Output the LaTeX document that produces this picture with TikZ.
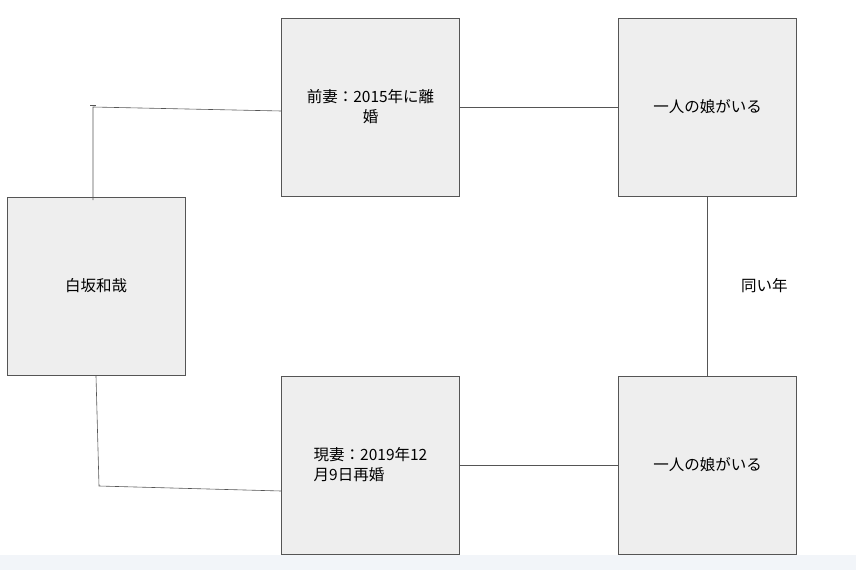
\documentclass[tikz,border=0pt]{standalone}
\usepackage{fontspec}
\setmainfont{Noto Sans CJK JP}
\usetikzlibrary{positioning}
\definecolor{boxfill}{HTML}{EEEEEE}
\definecolor{boxline}{HTML}{555555}
\definecolor{stripfill}{HTML}{F2F5F9}
\tikzset{%
  person/.style = {rectangle,draw=boxline,fill=boxfill,minimum width=178pt,
        minimum height=178pt,inner sep=2pt,font=\fontsize{15.5pt}{20pt}\selectfont},
  link/.style = {draw=boxline,line width=0.6pt}
}
\begin{document}
\begin{tikzpicture}[x=1pt,y=-1pt]
  \useasboundingbox (0,0) rectangle (856,570);
  \fill[stripfill] (0,555) rectangle (856,570);
  \node[person] (husband) at (96,286) {白坂和哉};
  \node[person,align=center] (exwife) at (370.5,107) {前妻：2015年に離\\婚};
  \node[person] (daughterA) at (707.5,107) {一人の娘がいる};
  \node[person,align=left] (wife) at (370.5,465) {現妻：2019年12\\月9日再婚};
  \node[person] (daughterB) at (707.5,465) {一人の娘がいる};
  \coordinate (topbend) at (93,107);
  \coordinate (botbend) at (99,486);
  \draw[link] (93,200) -- (topbend) -- (exwife.west |- 0,111);
  \draw[link] (90,105) -- (96,105);
  \draw[link] (96,376) -- (botbend) -- (wife.west |- 0,491);
  \draw[link] (exwife) -- (daughterA);
  \draw[link] (wife) -- (daughterB);
  \draw[link] (daughterA) -- node[right=30pt,font=\fontsize{15.5pt}{20pt}\selectfont] (sameage) {同い年} (daughterB);
\end{tikzpicture}
\end{document}
